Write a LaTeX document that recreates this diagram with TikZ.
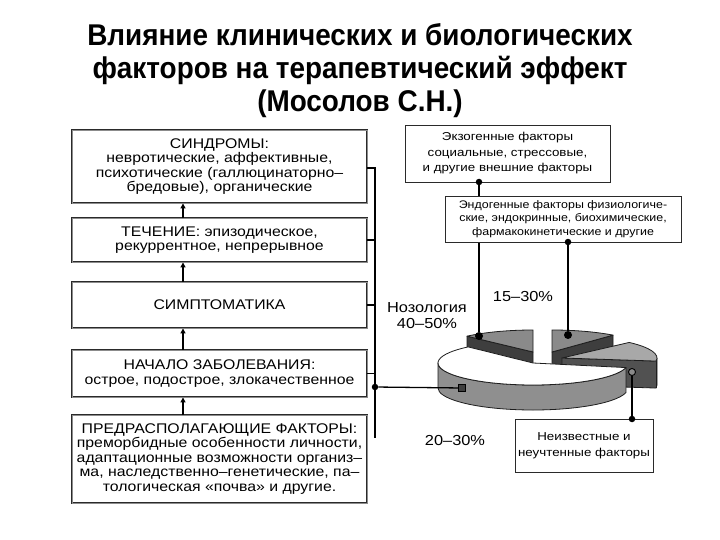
\documentclass[tikz,border=0pt]{standalone}
\usepackage{fontspec}
\setmainfont{Liberation Sans}
\newfontfamily\titlefont[FakeStretch=0.93]{Liberation Sans}
\newfontfamily\boxfont[FakeStretch=1.13]{Liberation Sans}
\newfontfamily\sidefont[FakeStretch=1.16]{Liberation Sans}
\usetikzlibrary{arrows.meta,positioning}
\definecolor{PieInk}{HTML}{1E1E1E}
\definecolor{PieTop}{HTML}{8A8A8A}
\definecolor{PieSide}{HTML}{3E3E3E}
\definecolor{PieFront}{HTML}{8F8F8F}
\definecolor{PieLight}{HTML}{A8A8A8}
\definecolor{BoxRule}{HTML}{2A2A2A}

\begin{document}
\begin{tikzpicture}[
    x=1pt, y=1pt,
    stage/.style={
        draw=BoxRule,
        line width=0.9pt,
        double=black!45,
        double distance=0.9pt,
        fill=white,
        minimum width=295pt,
        inner sep=0pt,
        align=center,
        font=\boxfont\fontsize{14}{14.5}\selectfont
    },
    factor/.style={draw=BoxRule, line width=0.9pt, fill=white,
                   inner sep=0pt, align=center,
                   font=\sidefont\fontsize{11.5}{15.5}\selectfont},
    link/.style={draw=black, line width=1.3pt},
    rise/.style={-{Triangle[length=5pt,width=5pt]},
                 draw=black, line width=1.4pt},
    knot/.style={circle, fill=black, inner sep=0pt, minimum size=6.5pt},
    pieedge/.style={draw=PieInk, line width=0.8pt, line join=round},
    share/.style={align=center, font=\boxfont\fontsize{14.5}{16}\selectfont}
]
    \fill[white] (0,0) rectangle (720,-540);
    \useasboundingbox (0,0) rectangle (720,-540);

    \node[font=\titlefont\bfseries\fontsize{30}{33}\selectfont, align=center]
        (title) at (360,-71)
        {Влияние клинических и биологических\\
         факторов на терапевтический эффект\\
         (Мосолов С.Н.)};

    % pie: slices lying behind first, the white front slice last
    \filldraw[pieedge, fill=PieSide] (533,-352) -- ++(134:95pt and 22pt)
        -- ++(0,-25) -- (533,-377) -- cycle;
    \filldraw[pieedge, fill=PieTop] (533,-352) -- ++(90:95pt and 22pt)
        arc[start angle=90, end angle=134, x radius=95pt, y radius=22pt] -- cycle;

    \filldraw[pieedge, fill=PieSide] (552,-352) -- ++(50:95pt and 22pt)
        -- ++(0,-25) -- (552,-377) -- cycle;
    \filldraw[pieedge, fill=PieTop] (552,-352) -- ++(50:95pt and 22pt)
        arc[start angle=50, end angle=90, x radius=95pt, y radius=22pt] -- cycle;

    \filldraw[pieedge, fill=PieSide!90!white] (562,-358) -- ++(-8:95pt and 22pt)
        arc[start angle=-8, end angle=0, x radius=95pt, y radius=22pt]
        -- ++(0,-27)
        arc[start angle=0, end angle=-8, x radius=95pt, y radius=22pt]
        -- (562,-385) -- cycle;
    \draw[pieedge] (562,-358) ++(-8:95pt and 22pt) -- ++(0,-27);
    \filldraw[pieedge, fill=PieLight] (562,-358) -- ++(-8:95pt and 22pt)
        arc[start angle=-8, end angle=45, x radius=95pt, y radius=22pt] -- cycle;

    \filldraw[pieedge, fill=PieFront] (533,-363) ++(180:95pt and 22pt)
        arc[start angle=180, end angle=348, x radius=95pt, y radius=22pt]
        -- ++(0,-25)
        arc[start angle=348, end angle=180, x radius=95pt, y radius=22pt] -- cycle;
    \filldraw[pieedge, fill=white] (533,-363) -- ++(133:95pt and 22pt)
        arc[start angle=133, end angle=348, x radius=95pt, y radius=22pt] -- cycle;

    \node[share] (noso) at (427,-316) {Нозология\\40–50\%};
    \node[share] (endoshare) at (523,-297) {15–30\%};
    \node[share] (unkshare) at (455,-441) {20–30\%};

    % markers on the slices
    \node[knot, minimum size=8pt] (mnoso) at (479,-336) {};
    \node[knot, minimum size=8pt] (mendo) at (568,-335) {};
    \node[draw=black, fill=PieSide, inner sep=0pt, minimum size=7pt,
          line width=0.8pt] (mfront) at (462,-388) {};
    \node[circle, draw=black, fill=PieTop, inner sep=0pt, minimum size=7pt,
          line width=0.9pt] (munk) at (632,-372) {};

    \coordinate (exofoot) at (479,-182);
    \coordinate (endofoot) at (568,-242);
    \coordinate (unkhead) at (632,-419);
    \draw[link] (exofoot) -- (mnoso);
    \draw[link] (endofoot) -- (mendo);
    \draw[link] (munk) -- (unkhead);

    \node[factor, minimum width=205pt, minimum height=57pt] (exo) at (507.5,-153.5)
        {Экзогенные факторы\\социальные, стрессовые,\\и другие внешние факторы};
    \node[factor, minimum width=236pt, minimum height=46pt,
          font=\boxfont\fontsize{11}{13.5}\selectfont] (endo) at (563,-219)
        {Эндогенные факторы физиологиче-\\ские, эндокринные, биохимические,\\фармакокинетические и другие};
    \node[factor, minimum width=138pt, minimum height=53pt] (unk) at (584,-445.5)
        {Неизвестные и\\неучтенные факторы};

    \node[knot] at (exofoot) {};
    \node[knot] at (endofoot) {};
    \node[knot] at (unkhead) {};

    % clinical chain on the left
    \node[stage, minimum height=73pt] (syndr) at (219.5,-166.5)
        {СИНДРОМЫ:\\невротические, аффективные,\\психотические (галлюцинаторно–\\бредовые), органические};
    \node[stage, minimum height=44pt] (course) at (219.5,-240)
        {ТЕЧЕНИЕ: эпизодическое,\\рекуррентное, непрерывное};
    \node[stage, minimum height=46pt] (sympt) at (219.5,-305)
        {СИМПТОМАТИКА};
    \node[stage, minimum height=47pt] (onset) at (219.5,-373.5)
        {НАЧАЛО ЗАБОЛЕВАНИЯ:\\острое, подострое, злокачественное};
    \node[stage, minimum height=88pt] (predisp) at (219.5,-459)
        {ПРЕДРАСПОЛАГАЮЩИЕ ФАКТОРЫ:\\преморбидные особенности личности,\\адаптационные возможности организ–\\ма, наследственно–генетические, па–\\тологическая «почва» и другие.};

    \coordinate (ax) at (183,0);
    \draw[rise] (predisp.north -| ax) -- (onset.south -| ax);
    \draw[rise] (onset.north -| ax) -- (sympt.south -| ax);
    \draw[rise] (sympt.north -| ax) -- (course.south -| ax);
    \draw[rise] (course.north -| ax) -- (syndr.south -| ax);

    \coordinate (spinetop) at (375,-168);
    \coordinate (spinebot) at (375,-438);
    \draw[link] (syndr.east |- spinetop) -- (spinetop) -- (spinebot);
    \draw[link] (course.east) -- (course.east -| spinetop);
    \draw[link] (sympt.east) -- (sympt.east -| spinetop);
    \draw[link] (onset.east) -- (onset.east -| spinetop);
    \node[knot] (spinedot) at (375,-387) {};
    \draw[link] (spinedot) -- (mfront);
\end{tikzpicture}
\end{document}
